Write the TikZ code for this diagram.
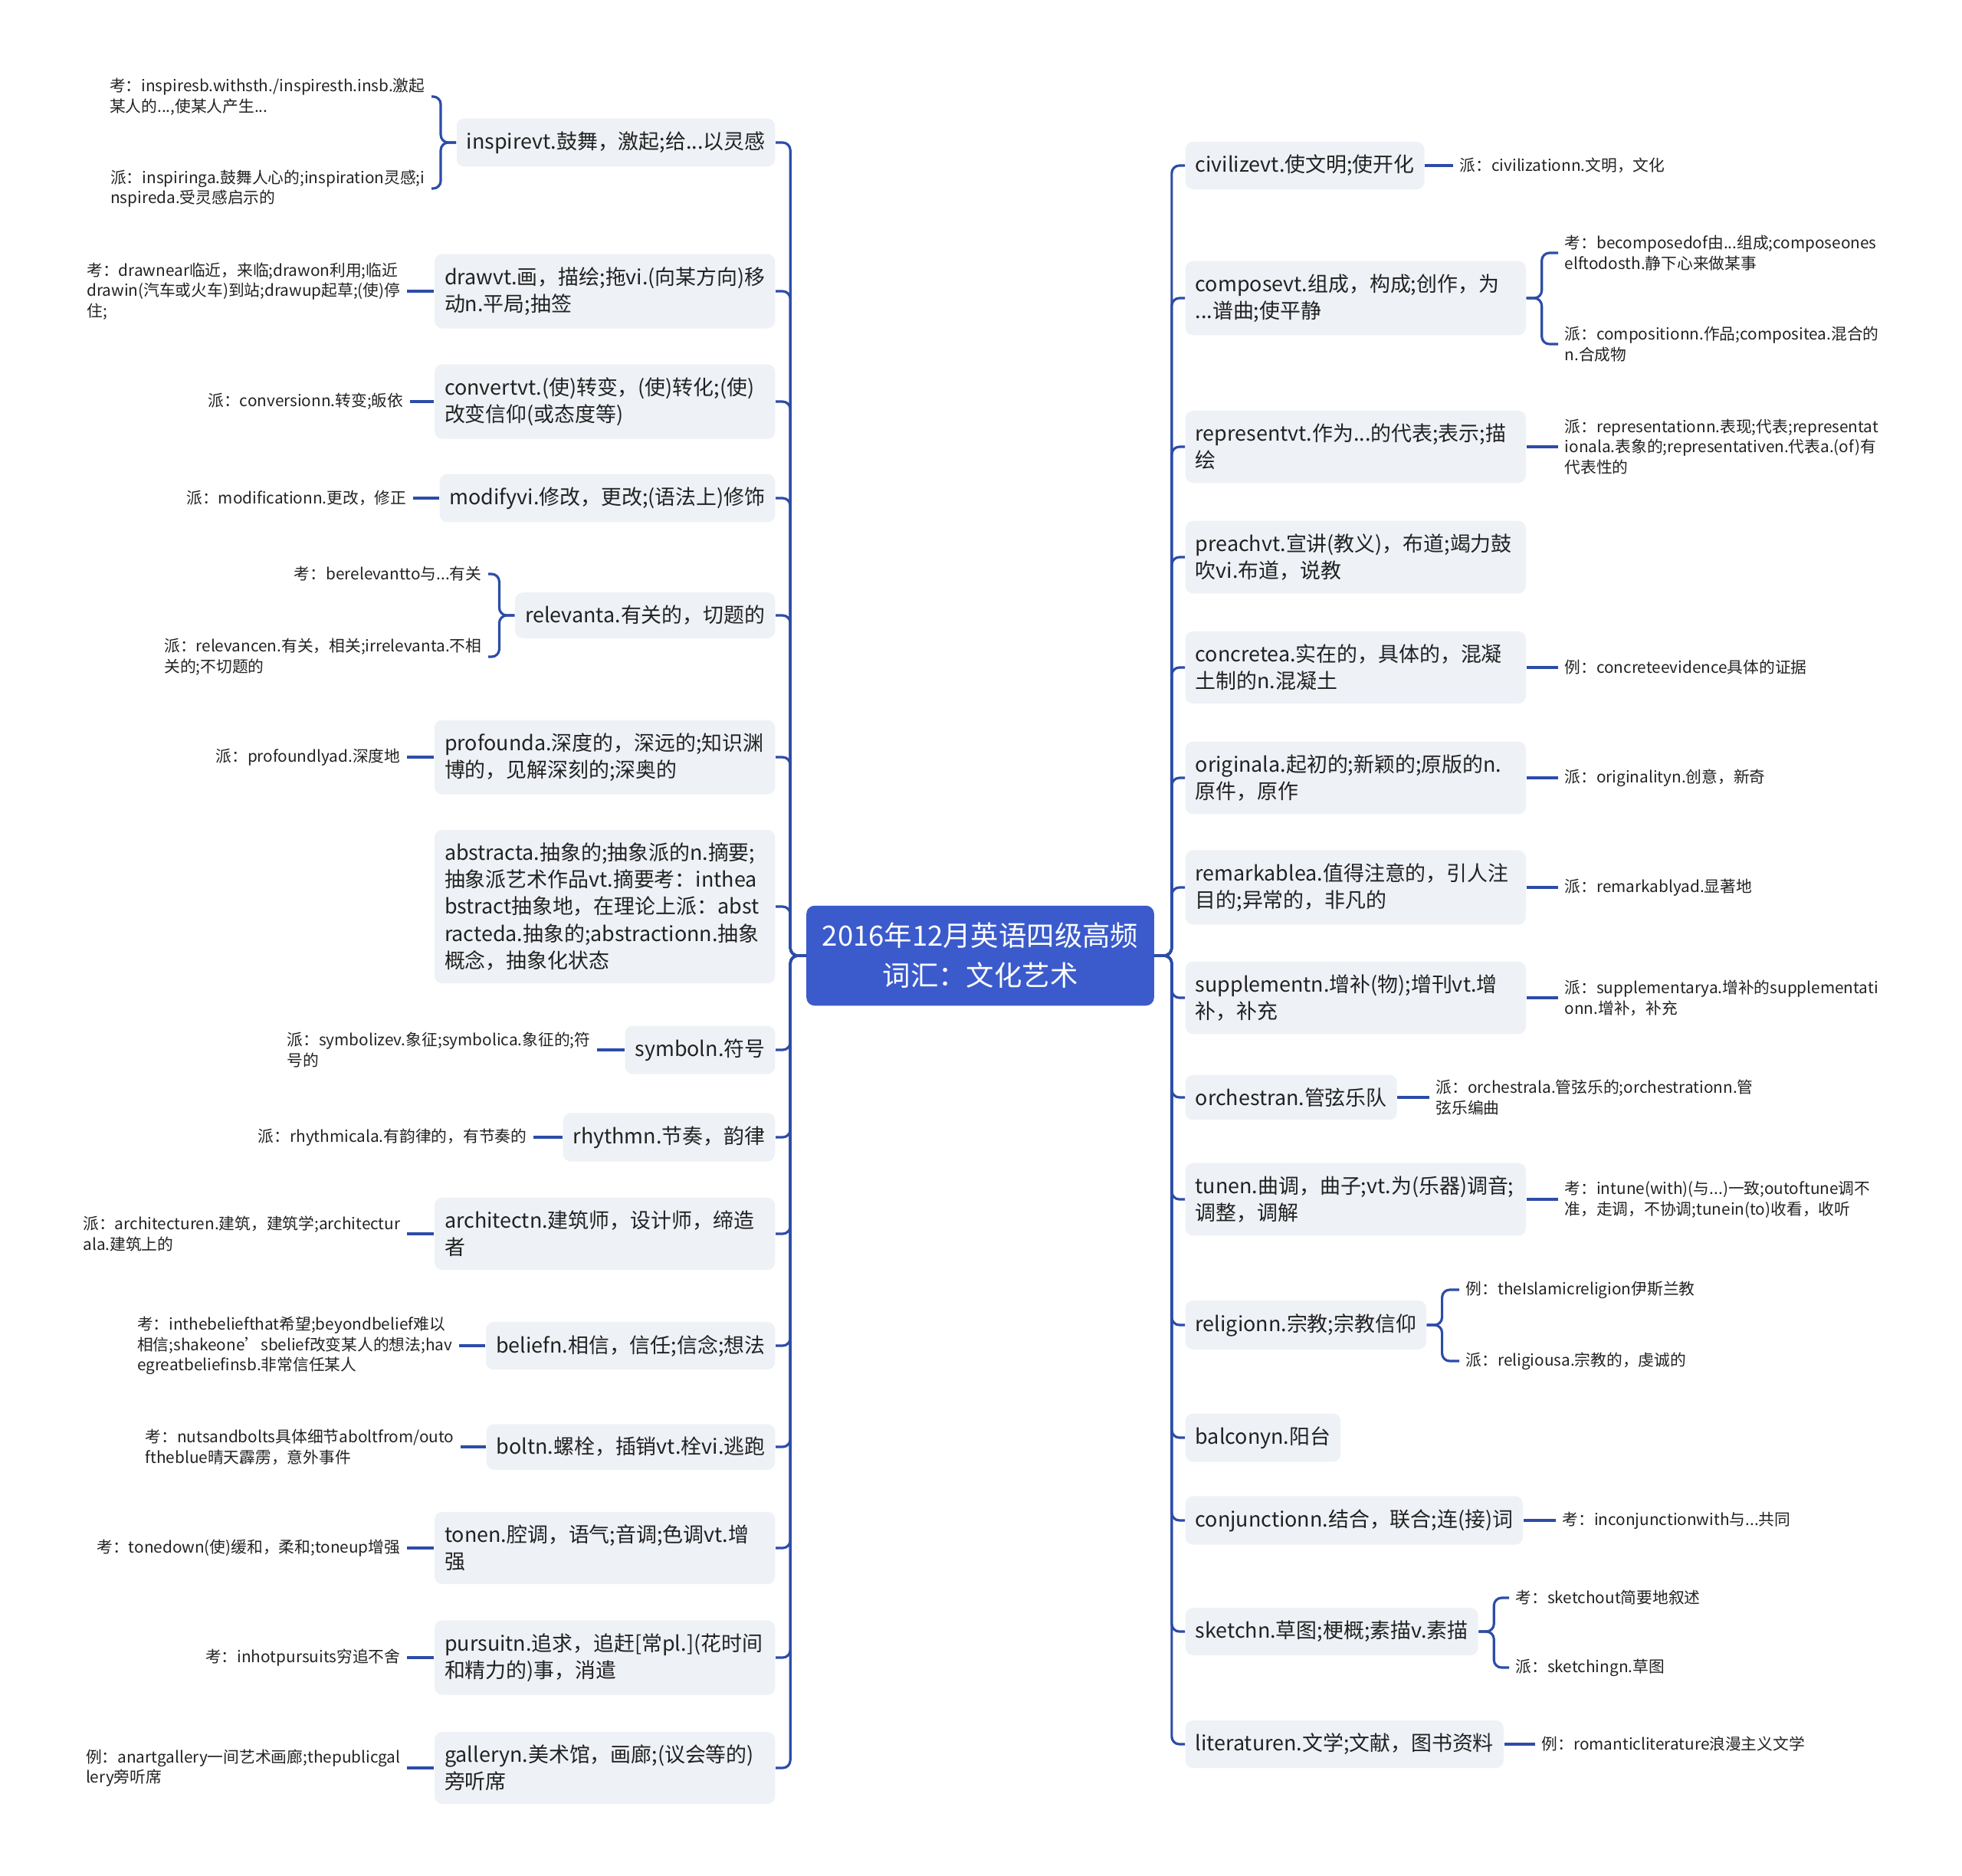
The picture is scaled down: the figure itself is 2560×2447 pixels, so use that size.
\documentclass[tikz,border=0pt]{standalone}
\usepackage{fontspec}
\setmainfont{Noto Sans CJK SC}
\usepackage{tikz}

\definecolor{hubblue}{RGB}{59,91,204}
\definecolor{linkblue}{RGB}{44,76,168}
\definecolor{boxgray}{RGB}{238,241,246}
\definecolor{inkgray}{RGB}{34,34,34}

\begin{document}
\begin{tikzpicture}[x=0.01cm, y=-0.01cm,
    hub/.style={rectangle,rounded corners=0.1cm,fill=hubblue,draw=hubblue,text=white,
      align=center,minimum width=4.52cm,minimum height=1.29cm,
      font=\fontsize{10.35}{14.8}\selectfont},
    topic/.style={rectangle,rounded corners=0.1cm,fill=boxgray,text=inkgray,align=left,
      inner xsep=0.13cm,inner ysep=0.17cm,font=\fontsize{7.65}{10}\selectfont},
    wide/.style={text width=4.18cm},
    note/.style={inner sep=0.08cm,align=left,text=inkgray,
      font=\fontsize{5.9}{7.6}\selectfont},
    link/.style={draw=linkblue,line width=0.9pt,rounded corners=0.1cm}]

    \useasboundingbox (0,0) rectangle (2560,2447);

    %==================== Root ====================
    \node[hub] (hub) at (1279,1247) {2016年12月英语四级高频\\词汇：文化艺术};

    %==================== Left branches ====================
    \begin{scope}
      % Word nodes
      \node[topic,anchor=east] (l1) at (1012,186) {inspirevt.鼓舞，激起;给...以灵感};
      \node[topic,wide,anchor=east] (l2) at (1012,380) {drawvt.画，描绘;拖vi.(向某方向)移\\动n.平局;抽签};
      \node[topic,wide,anchor=east] (l3) at (1012,524) {convertvt.(使)转变，(使)转化;(使)\\改变信仰(或态度等)};
      \node[topic,anchor=east] (l4) at (1012,650) {modifyvi.修改，更改;(语法上)修饰};
      \node[topic,anchor=east] (l5) at (1012,803) {relevanta.有关的，切题的};
      \node[topic,wide,anchor=east] (l6) at (1012,988) {profounda.深度的，深远的;知识渊\\博的，见解深刻的;深奥的};
      \node[topic,wide,anchor=east] (l7) at (1012,1183) {abstracta.抽象的;抽象派的n.摘要;\\抽象派艺术作品vt.摘要考：inthea\\bstract抽象地，在理论上派：abst\\racteda.抽象的;abstractionn.抽象\\概念，抽象化状态};
      \node[topic,anchor=east] (l8) at (1012,1370) {symboln.符号};
      \node[topic,anchor=east] (l9) at (1012,1484) {rhythmn.节奏，韵律};
      \node[topic,wide,anchor=east] (l10) at (1012,1610) {architectn.建筑师，设计师，缔造\\者};
      \node[topic,anchor=east] (l11) at (1012,1756) {beliefn.相信，信任;信念;想法};
      \node[topic,anchor=east] (l12) at (1012,1888) {boltn.螺栓，插销vt.栓vi.逃跑};
      \node[topic,wide,anchor=east] (l13) at (1012,2020) {tonen.腔调，语气;音调;色调vt.增\\强};
      \node[topic,wide,anchor=east] (l14) at (1012,2163) {pursuitn.追求，追赶[常pl.](花时间\\和精力的)事，消遣};
      \node[topic,wide,anchor=east] (l15) at (1012,2307) {galleryn.美术馆，画廊;(议会等的)\\旁听席};

      % Notes
      \node[note,anchor=east] (l1a) at (563,126) {考：inspiresb.withsth./inspiresth.insb.激起\\某人的...,使某人产生...};
      \node[note,anchor=east] (l1b) at (563,246) {派：inspiringa.鼓舞人心的;inspiration灵感;i\\nspireda.受灵感启示的};
      \node[note,anchor=east] (l2a) at (531,380) {考：drawnear临近，来临;drawon利用;临近\\drawin(汽车或火车)到站;drawup起草;(使)停\\住;};
      \node[note,anchor=east] (l3a) at (535,524) {派：conversionn.转变;皈依};
      \node[note,anchor=east] (l4a) at (539,650) {派：modificationn.更改，修正};
      \node[note,anchor=east] (l5a) at (637,749) {考：berelevantto与...有关};
      \node[note,anchor=east] (l5b) at (637,857) {派：relevancen.有关，相关;irrelevanta.不相\\关的;不切题的};
      \node[note,anchor=east] (l6a) at (531,988) {派：profoundlyad.深度地};
      \node[note,anchor=east] (l8a) at (779,1370) {派：symbolizev.象征;symbolica.象征的;符\\号的};
      \node[note,anchor=east] (l9a) at (696,1484) {派：rhythmicala.有韵律的，有节奏的};
      \node[note,anchor=east] (l10a) at (531,1610) {派：architecturen.建筑，建筑学;architectur\\ala.建筑上的};
      \node[note,anchor=east] (l11a) at (599,1756) {考：inthebeliefthat希望;beyondbelief难以\\相信;shakeone’sbelief改变某人的想法;hav\\egreatbeliefinsb.非常信任某人};
      \node[note,anchor=east] (l12a) at (601,1888) {考：nutsandbolts具体细节aboltfrom/outo\\ftheblue晴天霹雳，意外事件};
      \node[note,anchor=east] (l13a) at (531,2020) {考：tonedown(使)缓和，柔和;toneup增强};
      \node[note,anchor=east] (l14a) at (531,2163) {考：inhotpursuits穷追不舍};
      \node[note,anchor=east] (l15a) at (531,2307) {例：anartgallery一间艺术画廊;thepublicgal\\lery旁听席};

      % Spine to words
      \foreach \i in {1,...,15} {
        \draw[link] (hub.west) -- ++(-21,0) |- (l\i.east);
      }

      % Words to notes: brackets
      \foreach \m/\s in {1/1a,1/1b,5/5a,5/5b} {
        \draw[link] (l\m.west) -- ++(-20,0) |- (l\s.east);
      }
      % Words to notes: single notes
      \foreach \m/\s in {2/2a,3/3a,4/4a,6/6a,8/8a,9/9a,
                         10/10a,11/11a,12/12a,13/13a,14/14a,15/15a} {
        \draw[link] (l\m.west) -- (l\s.east);
      }
    \end{scope}

    %==================== Right branches ====================
    \begin{scope}
      % Word nodes
      \node[topic,anchor=west] (r1) at (1546,216) {civilizevt.使文明;使开化};
      \node[topic,wide,anchor=west] (r2) at (1546,389) {composevt.组成，构成;创作，为\\...谱曲;使平静};
      \node[topic,wide,anchor=west] (r3) at (1546,583) {representvt.作为...的代表;表示;描\\绘};
      \node[topic,wide,anchor=west] (r4) at (1546,727) {preachvt.宣讲(教义)，布道;竭力鼓\\吹vi.布道，说教};
      \node[topic,wide,anchor=west] (r5) at (1546,871) {concretea.实在的，具体的，混凝\\土制的n.混凝土};
      \node[topic,wide,anchor=west] (r6) at (1546,1015) {originala.起初的;新颖的;原版的n.\\原件，原作};
      \node[topic,wide,anchor=west] (r7) at (1546,1158) {remarkablea.值得注意的，引人注\\目的;异常的，非凡的};
      \node[topic,wide,anchor=west] (r8) at (1546,1302) {supplementn.增补(物);增刊vt.增\\补，补充};
      \node[topic,anchor=west] (r9) at (1546,1432) {orchestran.管弦乐队};
      \node[topic,wide,anchor=west] (r10) at (1546,1565) {tunen.曲调，曲子;vt.为(乐器)调音;\\调整，调解};
      \node[topic,anchor=west] (r11) at (1546,1729) {religionn.宗教;宗教信仰};
      \node[topic,anchor=west] (r12) at (1546,1876) {balconyn.阳台};
      \node[topic,anchor=west] (r13) at (1546,1984) {conjunctionn.结合，联合;连(接)词};
      \node[topic,anchor=west] (r14) at (1546,2129) {sketchn.草图;梗概;素描v.素描};
      \node[topic,anchor=west] (r15) at (1546,2276) {literaturen.文学;文献，图书资料};

      % Notes
      \node[note,anchor=west] (r1a) at (1896,216) {派：civilizationn.文明，文化};
      \node[note,anchor=west] (r2a) at (2033,330) {考：becomposedof由...组成;composeones\\elftodosth.静下心来做某事};
      \node[note,anchor=west] (r2b) at (2033,449) {派：compositionn.作品;compositea.混合的\\n.合成物};
      \node[note,anchor=west] (r3a) at (2033,583) {派：representationn.表现;代表;representat\\ionala.表象的;representativen.代表a.(of)有\\代表性的};
      \node[note,anchor=west] (r5a) at (2033,871) {例：concreteevidence具体的证据};
      \node[note,anchor=west] (r6a) at (2033,1015) {派：originalityn.创意，新奇};
      \node[note,anchor=west] (r7a) at (2033,1158) {派：remarkablyad.显著地};
      \node[note,anchor=west] (r8a) at (2033,1302) {派：supplementarya.增补的supplementati\\onn.增补，补充};
      \node[note,anchor=west] (r9a) at (1865,1432) {派：orchestrala.管弦乐的;orchestrationn.管\\弦乐编曲};
      \node[note,anchor=west] (r10a) at (2033,1565) {考：intune(with)(与...)一致;outoftune调不\\准，走调，不协调;tunein(to)收看，收听};
      \node[note,anchor=west] (r11a) at (1904,1683) {例：theIslamicreligion伊斯兰教};
      \node[note,anchor=west] (r11b) at (1904,1776) {派：religiousa.宗教的，虔诚的};
      \node[note,anchor=west] (r13a) at (2030,1984) {考：inconjunctionwith与...共同};
      \node[note,anchor=west] (r14a) at (1969,2085) {考：sketchout简要地叙述};
      \node[note,anchor=west] (r14b) at (1969,2176) {派：sketchingn.草图};
      \node[note,anchor=west] (r15a) at (2003,2276) {例：romanticliterature浪漫主义文学};

      % Spine to words
      \foreach \i in {1,...,15} {
        \draw[link] (hub.east) -- ++(23,0) |- (r\i.west);
      }

      % Words to notes: brackets
      \foreach \m/\s in {2/2a,2/2b,11/11a,11/11b,14/14a,14/14b} {
        \draw[link] (r\m.east) -- ++(20,0) |- (r\s.west);
      }
      % Words to notes: single notes
      \foreach \m/\s in {1/1a,3/3a,5/5a,6/6a,7/7a,8/8a,9/9a,10/10a,13/13a,15/15a} {
        \draw[link] (r\m.east) -- (r\s.west);
      }
    \end{scope}

  \end{tikzpicture}
\end{document}
